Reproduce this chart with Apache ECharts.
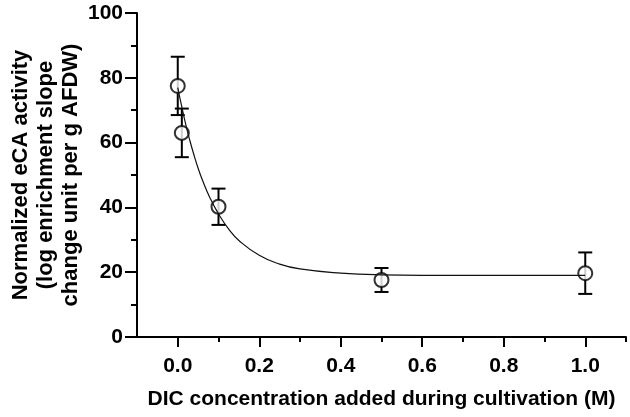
<!DOCTYPE html>
<html>
<head>
<meta charset="utf-8">
<script src="https://cdn.jsdelivr.net/npm/echarts@6/dist/echarts.min.js"></script>
<style>
html,body{margin:0;padding:0;background:#fff;}
#c{width:630px;height:417px;}
</style>
</head>
<body>
<div id="c"></div>
<script>
// Measured points (DIC concentration M, normalized eCA activity, error)
var dicX = [0.0, 0.01, 0.1, 0.5, 1.0];
var activity = [77.5, 63.0, 40.2, 17.6, 19.7];
var errors = [9.0, 7.5, 5.6, 3.7, 6.4];

// Fitted curve
var curveX = [0.0, 0.01, 0.02, 0.03, 0.04, 0.05, 0.06, 0.08, 0.1, 0.125, 0.15, 0.2, 0.25, 0.3, 0.4, 0.5, 0.7, 1.0];
var curveY = [77.0, 71.0, 65.4, 60.5, 56.1, 52.1, 48.6, 42.7, 38.0, 33.3, 29.8, 25.2, 22.5, 21.0, 19.7, 19.2, 19.0, 19.0];

var xMajorTicks = [0.0, 0.2, 0.4, 0.6, 0.8, 1.0];
var xMinorTicks = [0.1, 0.3, 0.5, 0.7, 0.9, 1.1];
var yTicks = [0, 20, 40, 60, 80, 100];

var xTitle = 'DIC concentration added during cultivation (M)';
var yTitle = 'Normalized eCA activity\n(log enrichment slope\nchange unit per g AFDW)';

var FONT = '"Liberation Sans", Arial, sans-serif';

var chart = echarts.init(document.getElementById('c'), null, {renderer: 'canvas'});

var pts = dicX.map(function (x, i) { return [x, activity[i]]; });
var errData = dicX.map(function (x, i) { return [x, activity[i] - errors[i], activity[i] + errors[i]]; });
var curve = curveX.map(function (x, i) { return [x, curveY[i]]; });

var axisLineStyle = {color: '#000', width: 2};

chart.setOption({
  animation: false,
  backgroundColor: '#fff',
  grid: {left: 137, right: 4, top: 13, bottom: 80, containLabel: false, outerBoundsMode: 'none'},
  xAxis: [{
    type: 'value',
    min: -0.1, max: 1.1,
    splitLine: {show: false},
    axisLine: {show: true, onZero: false, lineStyle: axisLineStyle},
    axisTick: {show: true, customValues: xMajorTicks, length: 10, lineStyle: {color: '#000', width: 2}},
    axisLabel: {show: true, customValues: xMajorTicks, margin: 19, color: '#000', fontFamily: FONT, fontWeight: 'bold', fontSize: 21,
      formatter: function (v) { return v.toFixed(1); }},
    name: xTitle,
    nameLocation: 'middle',
    nameGap: 52,
    nameMoveOverlap: false,
    nameTextStyle: {color: '#000', fontFamily: FONT, fontWeight: 'bold', fontSize: 21}
  }, {
    type: 'value',
    min: -0.1, max: 1.1,
    position: 'bottom',
    splitLine: {show: false},
    axisLine: {show: false},
    axisTick: {show: true, customValues: xMinorTicks, length: 5, lineStyle: {color: '#000', width: 2}},
    axisLabel: {show: false}
  }],
  yAxis: {
    type: 'value',
    min: 0, max: 100, interval: 20,
    splitLine: {show: false},
    axisLine: {show: true, onZero: false, lineStyle: axisLineStyle},
    axisTick: {show: true, length: 12, lineStyle: {color: '#000', width: 2}},
    minorTick: {show: true, splitNumber: 2, length: 6, lineStyle: {color: '#000', width: 2}},
    axisLabel: {margin: 14, color: '#000', fontFamily: FONT, fontWeight: 'bold', fontSize: 21},
    name: yTitle,
    nameLocation: 'middle',
    nameRotate: 90,
    nameGap: 54,
    nameMoveOverlap: false,
    nameTextStyle: {color: '#000', fontFamily: FONT, fontWeight: 'bold', fontSize: 22, lineHeight: 25, align: 'center'}
  },
  series: [{
    type: 'custom',
    z: 2,
    data: errData,
    renderItem: function (params, api) {
      var x = api.value(0);
      var lo = api.coord([x, api.value(1)]);
      var hi = api.coord([x, api.value(2)]);
      var hw = 7;
      var st = {stroke: '#000', lineWidth: 2};
      return {
        type: 'group',
        children: [
          {type: 'line', shape: {x1: lo[0], y1: lo[1], x2: hi[0], y2: hi[1]}, style: st},
          {type: 'line', shape: {x1: lo[0] - hw, y1: lo[1], x2: lo[0] + hw, y2: lo[1]}, style: st},
          {type: 'line', shape: {x1: hi[0] - hw, y1: hi[1], x2: hi[0] + hw, y2: hi[1]}, style: st}
        ]
      };
    }
  }, {
    type: 'scatter',
    z: 3,
    data: pts,
    symbol: 'circle',
    symbolSize: 14,
    itemStyle: {color: '#fff', borderColor: '#000', borderWidth: 2}
  }, {
    type: 'line',
    z: 4,
    data: curve,
    smooth: true,
    showSymbol: false,
    symbol: 'none',
    lineStyle: {color: '#111', width: 1.2}
  }]
});
</script>
</body>
</html>
